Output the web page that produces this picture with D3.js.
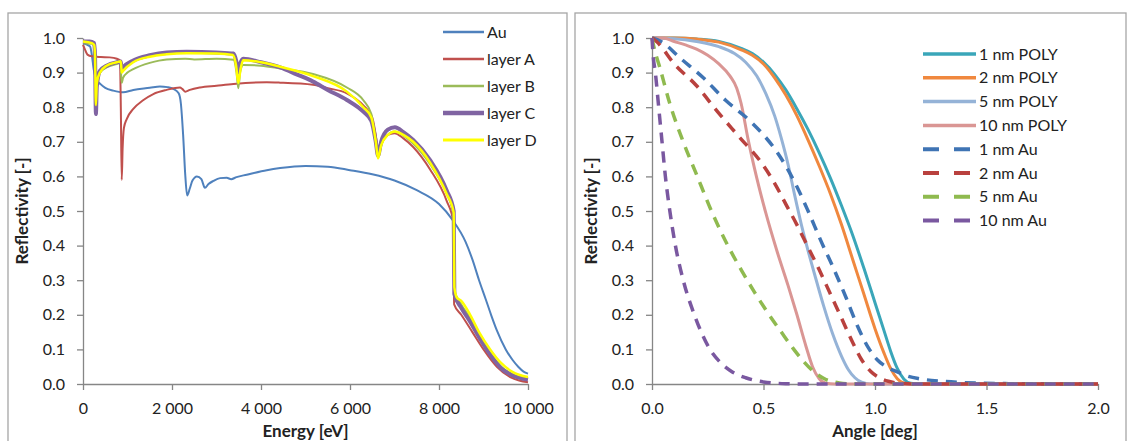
<!DOCTYPE html>
<html>
<head>
<meta charset="utf-8">
<script src="https://cdn.jsdelivr.net/npm/d3@7"></script>
<style>
  body { margin: 0; background: #fff; }
  svg text { font-family: Lato, "Open Sans", sans-serif; fill: #222; }
  .axis path, .axis line { stroke: #868686; stroke-width: 1.3; }
  .axis text { font-size: 16px; }
  .title { font-size: 17px; font-weight: bold; }
  .legend text { font-size: 16px; }
</style>
</head>
<body>
<div id="chart"></div>
<script>
// ---- left panel: reflectivity vs energy, [eV, R] ----
let auData = [[0,0.985],[100,0.98],[160,0.975],[200,0.95],[240,0.91],[300,0.88],[400,0.866],[500,0.856],[680,0.848],[900,0.843],[1130,0.85],[1500,0.856],[1730,0.86],[1900,0.858],[2030,0.853],[2150,0.84],[2200,0.81],[2250,0.72],[2300,0.6],[2340,0.545],[2400,0.565],[2460,0.588],[2560,0.6],[2660,0.592],[2740,0.567],[2820,0.578],[2930,0.587],[3080,0.595],[3230,0.596],[3330,0.592],[3450,0.598],[3680,0.605],[4130,0.618],[4430,0.624],[5000,0.63],[5500,0.628],[6000,0.618],[6500,0.606],[7000,0.588],[7500,0.56],[8000,0.52],[8300,0.475],[8600,0.41],[8750,0.36],[8900,0.3],[9050,0.245],[9170,0.2],[9300,0.155],[9500,0.1],[9650,0.07],[9780,0.05],[9900,0.036],[10000,0.03]];
let layerAData = [[0,0.98],[50,0.965],[100,0.952],[200,0.947],[400,0.945],[600,0.944],[760,0.94],[830,0.935],[850,0.8],[870,0.59],[890,0.68],[920,0.74],[980,0.765],[1130,0.795],[1350,0.82],[1580,0.838],[1880,0.85],[2180,0.857],[2230,0.853],[2300,0.845],[2400,0.85],[2630,0.857],[3000,0.862],[3380,0.867],[4130,0.872],[4430,0.871],[5170,0.865],[5500,0.855],[5930,0.84],[6300,0.805],[6500,0.77],[6600,0.7],[6640,0.66],[6700,0.69],[6850,0.72],[7000,0.725],[7200,0.71],[7420,0.685],[7800,0.62],[8170,0.53],[8320,0.47],[8340,0.23],[8500,0.2],[8750,0.15],[9000,0.1],[9300,0.05],[9600,0.02],[9800,0.01],[10000,0.005]];
let layerBData = [[0,0.985],[200,0.983],[260,0.975],[280,0.9],[300,0.83],[320,0.87],[380,0.9],[530,0.915],[760,0.925],[840,0.928],[870,0.87],[900,0.885],[1000,0.9],[1130,0.91],[1500,0.928],[1880,0.938],[2300,0.94],[2500,0.938],[3000,0.94],[3380,0.937],[3450,0.9],[3490,0.855],[3530,0.9],[3600,0.922],[4000,0.92],[4430,0.912],[5170,0.896],[5930,0.857],[6300,0.82],[6480,0.78],[6580,0.7],[6630,0.655],[6700,0.69],[6850,0.72],[7000,0.73],[7200,0.718],[7420,0.695],[7800,0.635],[8170,0.55],[8330,0.49],[8345,0.27],[8500,0.23],[8700,0.19],[8900,0.14],[9150,0.09],[9400,0.05],[9650,0.028],[10000,0.015]];
let layerCData = [[0,0.99],[150,0.99],[250,0.985],[270,0.95],[290,0.78],[310,0.86],[380,0.905],[530,0.92],[760,0.93],[850,0.932],[870,0.91],[900,0.915],[1130,0.935],[1500,0.95],[1880,0.958],[2330,0.96],[3000,0.958],[3380,0.955],[3450,0.93],[3490,0.9],[3530,0.925],[3600,0.94],[4000,0.93],[4430,0.915],[4800,0.895],[5170,0.874],[5500,0.85],[5930,0.821],[6300,0.787],[6480,0.76],[6580,0.7],[6630,0.66],[6700,0.7],[6850,0.735],[7010,0.742],[7200,0.728],[7420,0.705],[7800,0.647],[8170,0.56],[8330,0.5],[8345,0.26],[8500,0.22],[8700,0.18],[8900,0.135],[9150,0.085],[9400,0.045],[9650,0.025],[10000,0.013]];
let layerDData = [[0,0.99],[200,0.985],[250,0.98],[270,0.95],[290,0.806],[310,0.87],[380,0.9],[530,0.92],[760,0.93],[850,0.933],[870,0.9],[900,0.905],[1130,0.93],[1500,0.946],[1880,0.953],[2330,0.956],[3000,0.955],[3370,0.951],[3440,0.92],[3490,0.87],[3540,0.91],[3600,0.936],[4000,0.93],[4430,0.917],[5170,0.89],[5930,0.845],[6300,0.8],[6480,0.77],[6580,0.7],[6630,0.652],[6700,0.69],[6850,0.72],[7010,0.73],[7200,0.72],[7420,0.7],[7800,0.64],[8170,0.55],[8330,0.495],[8345,0.28],[8400,0.25],[8500,0.24],[8700,0.2],[8900,0.15],[9150,0.1],[9400,0.06],[9650,0.035],[10000,0.02]];

let energyTicks = [0, 2000, 4000, 6000, 8000, 10000];

// ---- right panel: reflectivity vs angle, [deg, R] ----
let poly1 = [[0,1],[0.1,1],[0.2,0.997],[0.3,0.99],[0.4,0.97],[0.45,0.955],[0.5,0.93],[0.55,0.895],[0.6,0.85],[0.65,0.795],[0.7,0.735],[0.75,0.668],[0.8,0.595],[0.85,0.515],[0.9,0.43],[0.95,0.335],[1.0,0.235],[1.04,0.155],[1.07,0.095],[1.1,0.045],[1.13,0.014],[1.16,0.002],[1.2,0],[2,0]];
let poly2 = [[0,1],[0.1,1],[0.2,0.997],[0.3,0.988],[0.4,0.966],[0.45,0.95],[0.5,0.925],[0.55,0.885],[0.6,0.835],[0.65,0.775],[0.7,0.705],[0.75,0.63],[0.8,0.55],[0.85,0.46],[0.9,0.36],[0.95,0.26],[1.0,0.16],[1.04,0.09],[1.07,0.045],[1.1,0.015],[1.13,0.002],[1.16,0],[2,0]];
let poly5 = [[0,1],[0.1,0.998],[0.2,0.99],[0.3,0.975],[0.37,0.955],[0.42,0.93],[0.47,0.89],[0.51,0.84],[0.55,0.775],[0.58,0.71],[0.61,0.635],[0.64,0.545],[0.67,0.46],[0.7,0.385],[0.73,0.315],[0.77,0.225],[0.81,0.145],[0.85,0.08],[0.88,0.042],[0.91,0.018],[0.94,0.005],[0.98,0],[2,0]];
let poly10 = [[0,1],[0.05,1],[0.1,0.99],[0.15,0.98],[0.2,0.968],[0.25,0.95],[0.3,0.925],[0.35,0.89],[0.38,0.855],[0.4,0.81],[0.43,0.71],[0.47,0.595],[0.51,0.495],[0.56,0.385],[0.61,0.285],[0.65,0.2],[0.69,0.11],[0.72,0.05],[0.75,0.015],[0.78,0.002],[0.82,0],[2,0]];
let au1 = [[0,1],[0.04,0.99],[0.13,0.94],[0.23,0.885],[0.33,0.82],[0.44,0.76],[0.5,0.72],[0.55,0.68],[0.6,0.63],[0.65,0.57],[0.7,0.5],[0.76,0.41],[0.81,0.34],[0.87,0.25],[0.92,0.17],[0.97,0.105],[1.01,0.07],[1.05,0.05],[1.1,0.035],[1.15,0.022],[1.2,0.015],[1.3,0.008],[1.4,0.004],[1.6,0.001],[2,0]];
let au2 = [[0,1],[0.02,0.99],[0.1,0.925],[0.2,0.862],[0.29,0.79],[0.39,0.715],[0.49,0.64],[0.55,0.58],[0.6,0.52],[0.65,0.46],[0.7,0.395],[0.75,0.33],[0.8,0.26],[0.85,0.19],[0.9,0.12],[0.94,0.07],[0.98,0.037],[1.02,0.018],[1.06,0.008],[1.1,0.003],[1.2,0],[2,0]];
let au5 = [[0,1],[0.01,0.97],[0.035,0.915],[0.08,0.81],[0.14,0.7],[0.2,0.605],[0.27,0.495],[0.34,0.4],[0.4,0.33],[0.46,0.265],[0.52,0.205],[0.58,0.15],[0.63,0.105],[0.68,0.065],[0.73,0.033],[0.78,0.013],[0.84,0.003],[0.9,0],[2,0]];
let au10 = [[0,1],[0.005,0.95],[0.015,0.9],[0.03,0.8],[0.045,0.7],[0.06,0.6],[0.08,0.5],[0.105,0.4],[0.14,0.3],[0.19,0.2],[0.26,0.1],[0.31,0.06],[0.36,0.035],[0.42,0.018],[0.5,0.006],[0.6,0.001],[0.7,0],[2,0]];

let angleTicks = [0, 0.5, 1.0, 1.5, 2.0];

let leftSeries = [
  {name: "Au", data: auData, color: "#4f81bd", width: 2},
  {name: "layer A", data: layerAData, color: "#c0504d", width: 2},
  {name: "layer B", data: layerBData, color: "#9bbb59", width: 2},
  {name: "layer C", data: layerCData, color: "#8064a2", width: 4},
  {name: "layer D", data: layerDData, color: "#ffff00", width: 2.5}
];

let rightSeries = [
  {name: "1 nm POLY", data: poly1, color: "#3aa6b9", width: 3, dash: null},
  {name: "2 nm POLY", data: poly2, color: "#f0883e", width: 3, dash: null},
  {name: "5 nm POLY", data: poly5, color: "#95b3d7", width: 3, dash: null},
  {name: "10 nm POLY", data: poly10, color: "#da9694", width: 3, dash: null},
  {name: "1 nm Au", data: au1, color: "#3f74b4", width: 3.5, dash: "11,8"},
  {name: "2 nm Au", data: au2, color: "#b9413e", width: 3.5, dash: "11,8"},
  {name: "5 nm Au", data: au5, color: "#8fba4f", width: 3.5, dash: "11,8"},
  {name: "10 nm Au", data: au10, color: "#7a58a0", width: 3.5, dash: "11,8"}
];

let svg = d3.select("#chart").append("svg")
  .attr("width", 1128)
  .attr("height", 441);

// panel frames
svg.append("rect").attr("x", 8).attr("y", 13).attr("width", 559).attr("height", 440)
  .attr("fill", "none").attr("stroke", "#a6a6a6").attr("stroke-width", 1.3);
svg.append("rect").attr("x", 575).attr("y", 13).attr("width", 551).attr("height", 440)
  .attr("fill", "none").attr("stroke", "#a6a6a6").attr("stroke-width", 1.3);

let spaceFormat = d3.formatLocale({decimal: ".", thousands: " ", grouping: [3], currency: ["", ""]}).format(",");

function drawPanel(opt) {
  let x = d3.scaleLinear().domain(opt.xDomain).range(opt.xRange);
  let y = d3.scaleLinear().domain([0, 1]).range([384, 38]);

  svg.append("g")
    .attr("class", "axis")
    .attr("transform", `translate(${opt.xRange[0]},0)`)
    .call(d3.axisLeft(y).ticks(10).tickFormat(d3.format(".1f")).tickSize(6).tickSizeOuter(0).tickPadding(12));

  svg.append("g")
    .attr("class", "axis")
    .attr("transform", "translate(0,384)")
    .call(d3.axisBottom(x).tickValues(opt.xTicks).tickFormat(opt.xFormat).tickSize(6).tickSizeOuter(0).tickPadding(13));

  let line = d3.line()
    .x(d => x(d[0]))
    .y(d => y(d[1]))
    .curve(d3.curveMonotoneX);

  svg.append("g").selectAll("path")
    .data(opt.series)
    .enter()
    .append("path")
    .attr("d", d => line(d.data))
    .attr("fill", "none")
    .attr("stroke", d => d.color)
    .attr("stroke-width", d => d.width)
    .attr("stroke-dasharray", d => d.dash || null)
    .attr("stroke-linejoin", "round");

  // axis titles
  svg.append("text")
    .attr("class", "title")
    .attr("x", (opt.xRange[0] + opt.xRange[1]) / 2)
    .attr("y", 437)
    .attr("text-anchor", "middle")
    .text(opt.xTitle);

  svg.append("text")
    .attr("class", "title")
    .attr("transform", `translate(${opt.yTitleX},211) rotate(-90)`)
    .attr("text-anchor", "middle")
    .text("Reflectivity [-]");

  // legend
  let legend = svg.append("g").attr("class", "legend");
  let rows = legend.selectAll("g")
    .data(opt.series)
    .enter()
    .append("g")
    .attr("transform", (d, i) => `translate(${opt.legX},${opt.legY + i * opt.legStep})`);

  rows.append("line")
    .attr("x1", 0).attr("x2", opt.legLen)
    .attr("stroke", d => d.color)
    .attr("stroke-width", d => d.width + 0.5)
    .attr("stroke-dasharray", d => d.dash ? "16,15" : null);

  rows.append("text")
    .attr("x", opt.legLen + 3)
    .attr("dy", "0.35em")
    .text(d => d.name);
}

drawPanel({
  xDomain: [0, 10000], xRange: [83, 528], xTicks: energyTicks, xFormat: spaceFormat,
  series: leftSeries, xTitle: "Energy [eV]", yTitleX: 28,
  legX: 443, legY: 32, legStep: 27, legLen: 41
});

drawPanel({
  xDomain: [0, 2], xRange: [652, 1098], xTicks: angleTicks, xFormat: d3.format(".1f"),
  series: rightSeries, xTitle: "Angle [deg]", yTitleX: 597,
  legX: 923, legY: 54, legStep: 23.8, legLen: 53
});
</script>
</body>
</html>
